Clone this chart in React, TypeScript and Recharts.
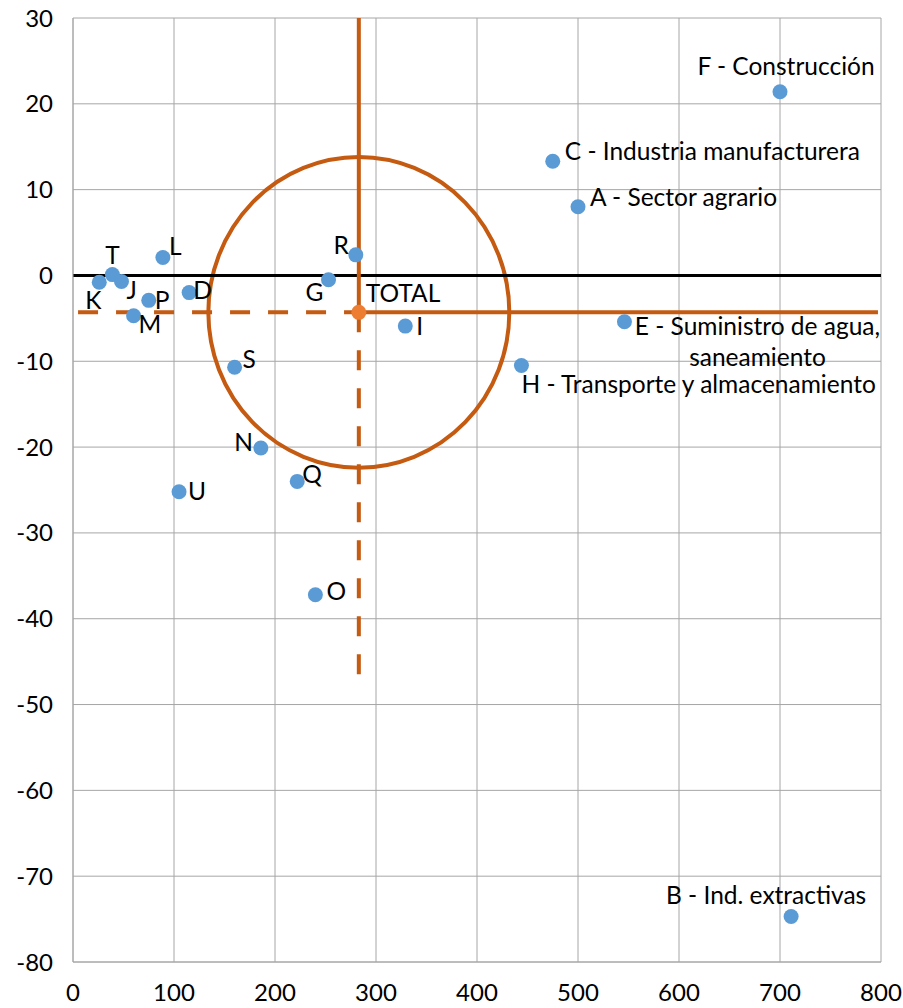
import { ScatterChart, Scatter, XAxis, YAxis, CartesianGrid, ReferenceLine, ReferenceArea } from 'recharts';

const sectors = [
  'F - Construcción', 'C - Industria manufacturera', 'A - Sector agrario', 'R', 'L', 'T', 'K', 'J', 'D', 'P', 'M',
  'G', 'I', 'E - Suministro de agua, saneamiento', 'H - Transporte y almacenamiento', 'S', 'N', 'Q', 'U', 'O',
  'B - Ind. extractivas',
];
const xValues = [700, 475, 500, 280, 89, 39, 26, 48, 115, 75, 60, 253, 329, 546, 444, 160, 186, 222, 105, 240, 711];
const yValues = [21.4, 13.3, 8.0, 2.4, 2.1, 0.1, -0.8, -0.7, -2.0, -2.9, -4.7, -0.5, -5.9, -5.4, -10.5, -10.7, -20.1, -24.0, -25.2, -37.2, -74.7];

const totalName = 'TOTAL';
const totalX = 283;
const totalY = -4.3;

// circle around the total (half-widths in axis units)
const circleRadiusX = 149;
const circleRadiusY = 18.1;

// ends of the orange guide lines
const guideTop = 30;
const guideBottom = -47.5;
const guideLeft = 5;
const guideRight = 797;

const xTicks = [0, 100, 200, 300, 400, 500, 600, 700, 800];
const yTicks = [30, 20, 10, 0, -10, -20, -30, -40, -50, -60, -70, -80];

const points = sectors.map((name, i) => ({ name, x: xValues[i], y: yValues[i] }));
const totalPoint = [{ name: totalName, x: totalX, y: totalY }];

const FONT = 'Lato, sans-serif';
const BLUE = '#5b9bd5';
const ORANGE = '#c55a11';
const ORANGE_DOT = '#ed7d31';

// label offsets from dot centre (pixels)
const placement: Record<string, { dx: number; dy: number; anchor: 'start' | 'middle' | 'end' }> = {
  'F - Construcción': { dx: 6, dy: -26, anchor: 'middle' },
  'C - Industria manufacturera': { dx: 12, dy: -11, anchor: 'start' },
  'A - Sector agrario': { dx: 12, dy: -10, anchor: 'start' },
  R: { dx: -7, dy: -10, anchor: 'end' },
  L: { dx: 6, dy: -12, anchor: 'start' },
  T: { dx: 0, dy: -20, anchor: 'middle' },
  K: { dx: -6, dy: 17, anchor: 'middle' },
  J: { dx: 5, dy: 8, anchor: 'start' },
  D: { dx: 4, dy: -3, anchor: 'start' },
  P: { dx: 6, dy: -1, anchor: 'start' },
  M: { dx: 5, dy: 8, anchor: 'start' },
  G: { dx: -5, dy: 12, anchor: 'end' },
  I: { dx: 11, dy: -1, anchor: 'start' },
  'E - Suministro de agua, saneamiento': { dx: 133, dy: 4, anchor: 'middle' },
  'H - Transporte y almacenamiento': { dx: 0, dy: 18, anchor: 'start' },
  S: { dx: 8, dy: -9, anchor: 'start' },
  N: { dx: -8, dy: -6, anchor: 'end' },
  Q: { dx: 5, dy: -8, anchor: 'start' },
  U: { dx: 9, dy: -1, anchor: 'start' },
  O: { dx: 11, dy: -4, anchor: 'start' },
  'B - Ind. extractivas': { dx: -25, dy: -22, anchor: 'middle' },
  TOTAL: { dx: 7, dy: -20, anchor: 'start' },
};

const renderPoint = (color: string) => (props: any) => {
  const { cx, cy, payload } = props;
  const p = placement[payload.name] || { dx: 8, dy: 0, anchor: 'start' };
  const lines: string[] = payload.name.includes(', ')
    ? [payload.name.split(', ')[0] + ',', payload.name.split(', ')[1]]
    : [payload.name];
  return (
    <g>
      <circle cx={cx} cy={cy} r={7.5} fill={color} />
      {lines.map((line, i) => (
        <text
          key={i}
          x={cx + p.dx}
          y={cy + p.dy + i * 31}
          textAnchor={p.anchor}
          dominantBaseline="central"
          fontFamily={FONT}
          fontSize={24.5}
          fill="#000"
        >
          {line}
        </text>
      ))}
    </g>
  );
};

const App = () => {
  return (
    <div style={{ position: 'absolute', left: 0, top: 0 }}>
      <ScatterChart width={903} height={1008} margin={{ top: 18, right: 22, bottom: 0, left: 0 }}>
        <CartesianGrid stroke="#a6a6a6" strokeWidth={1} />
        <XAxis
          type="number"
          dataKey="x"
          domain={[0, 800]}
          ticks={xTicks}
          height={46}
          tickLine={false}
          tickSize={0}
          tickMargin={22}
          axisLine={{ stroke: '#a6a6a6' }}
          tick={{ fill: '#000', fontSize: 24, fontFamily: FONT }}
          interval={0}
        />
        <YAxis
          type="number"
          dataKey="y"
          domain={[-80, 30]}
          ticks={yTicks}
          width={73}
          tickLine={false}
          tickSize={0}
          tickMargin={20}
          axisLine={{ stroke: '#a6a6a6' }}
          tick={{ fill: '#000', fontSize: 24, fontFamily: FONT }}
          interval={0}
        />
        <ReferenceLine y={0} stroke="#000" strokeWidth={3} />
        <ReferenceLine
          segment={[{ x: totalX, y: guideTop }, { x: totalX, y: totalY }]}
          stroke={ORANGE}
          strokeWidth={4}
        />
        <ReferenceLine
          segment={[{ x: totalX, y: totalY }, { x: totalX, y: guideBottom }]}
          stroke={ORANGE}
          strokeWidth={4}
          strokeDasharray="20 18"
        />
        <ReferenceLine
          segment={[{ x: guideLeft, y: totalY }, { x: totalX, y: totalY }]}
          stroke={ORANGE}
          strokeWidth={4}
          strokeDasharray="20 18"
        />
        <ReferenceLine
          segment={[{ x: totalX, y: totalY }, { x: guideRight, y: totalY }]}
          stroke={ORANGE}
          strokeWidth={4}
        />
        <ReferenceArea
          x1={totalX - circleRadiusX}
          x2={totalX + circleRadiusX}
          y1={totalY - circleRadiusY}
          y2={totalY + circleRadiusY}
          shape={(props: any) => (
            <ellipse
              cx={props.x + props.width / 2}
              cy={props.y + props.height / 2}
              rx={Math.abs(props.width) / 2}
              ry={Math.abs(props.height) / 2}
              fill="none"
              stroke={ORANGE}
              strokeWidth={4}
            />
          )}
        />
        <Scatter data={points} fill={BLUE} isAnimationActive={false} shape={renderPoint(BLUE)} />
        <Scatter data={totalPoint} fill={ORANGE_DOT} isAnimationActive={false} shape={renderPoint(ORANGE_DOT)} />
      </ScatterChart>
    </div>
  );
};

export default App;
